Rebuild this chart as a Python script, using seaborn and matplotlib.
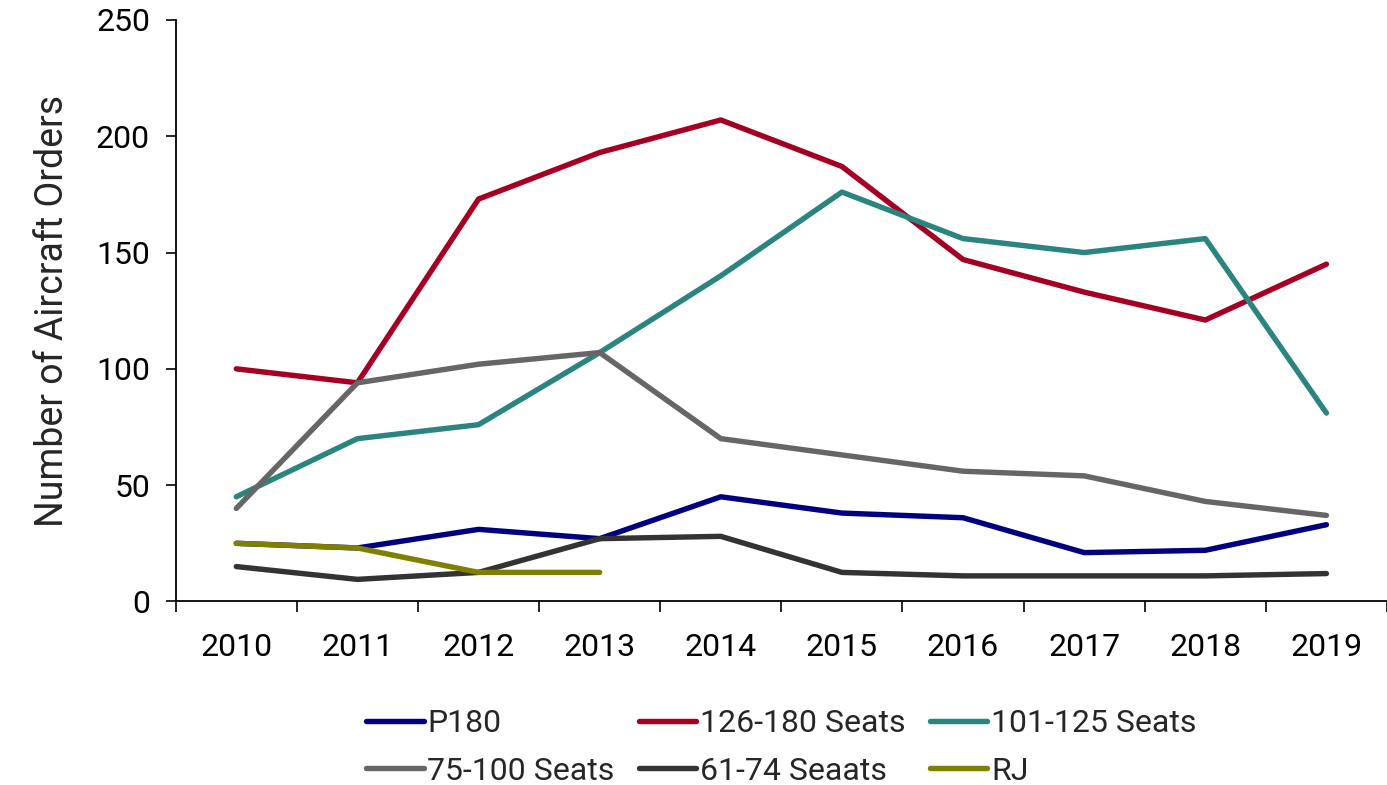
import pandas as pd
import matplotlib
matplotlib.use("Agg")
import matplotlib.pyplot as plt
import seaborn as sns

# ----------------- DATA -----------------
years = [2010, 2011, 2012, 2013, 2014, 2015, 2016, 2017, 2018, 2019]
p180 = [25, 23, 31, 27, 45, 38, 36, 21, 22, 33]
seats_126_180 = [100, 94, 173, 193, 207, 187, 147, 133, 121, 145]
seats_101_125 = [45, 70, 76, 107, 140, 176, 156, 150, 156, 81]
seats_75_100 = [40, 94, 102, 107, 70, 63, 56, 54, 43, 37]
seats_61_74 = [15, 9.5, 12.5, 27, 28, 12.5, 11, 11, 11, 12]
rj_years = [2010, 2011, 2012, 2013]
rj = [25, 23, 12.5, 12.5]

series_names = ["P180", "126-180 Seats", "101-125 Seats", "75-100 Seats", "61-74 Seaats", "RJ"]
colors = ["#000080", "#A50021", "#2A8580", "#666666", "#333333", "#808000"]

# ----------------- LONG TABLE -----------------
rows = []
for name, vals in zip(series_names[:5], [p180, seats_126_180, seats_101_125, seats_75_100, seats_61_74]):
    for y, v in zip(years, vals):
        rows.append({"year": y, "orders": v, "series": name})
for y, v in zip(rj_years, rj):
    rows.append({"year": y, "orders": v, "series": "RJ"})
df = pd.DataFrame(rows)

# ----------------- PLOT -----------------
sns.set_style("white")
plt.rcParams["font.family"] = ["Roboto", "DejaVu Sans"]
fs = 23
fs_label = 27

fig = plt.figure(figsize=(13.87, 7.85), dpi=100)
ax = fig.add_axes([0.1267, 0.2338, 0.8733, 0.7408])

sns.lineplot(data=df, x="year", y="orders", hue="series", hue_order=series_names,
             palette=dict(zip(series_names, colors)), linewidth=3.9, ax=ax)

ax.set_xlim(2009.5, 2019.5)
ax.set_ylim(0, 250)
ax.set_yticks(range(0, 251, 50))
ax.set_xticks(years)
ax.set_xticklabels([str(y) for y in years])
ax.set_xticks([y + 0.5 for y in [2009] + years], minor=True)
ax.tick_params(axis="x", which="major", length=0, pad=23, labelsize=fs, colors="black")
ax.tick_params(axis="x", which="minor", length=8, width=1.2, direction="out", bottom=True, color="black")
ax.tick_params(axis="y", length=7.5, width=1.2, direction="out", left=True, pad=11, labelsize=fs, colors="black")

sns.despine(ax=ax)
for s in ["left", "bottom"]:
    ax.spines[s].set_color("black")
    ax.spines[s].set_linewidth(1.3)

ax.set_xlabel("")
ax.set_ylabel("Number of Aircraft Orders", fontsize=fs_label, labelpad=18)

# legend, filled row by row
handles, labels = ax.get_legend_handles_labels()
ax.get_legend().remove()
order = [0, 3, 1, 4, 2, 5]
ax.legend([handles[i] for i in order], [labels[i] for i in order],
          loc="upper center", bbox_to_anchor=(0.5, -0.163), ncol=3, frameon=False,
          fontsize=fs, handlelength=1.8, handletextpad=0.12, columnspacing=0.75,
          labelspacing=0.58, borderaxespad=0)

fig.savefig("out.png", dpi=100)
